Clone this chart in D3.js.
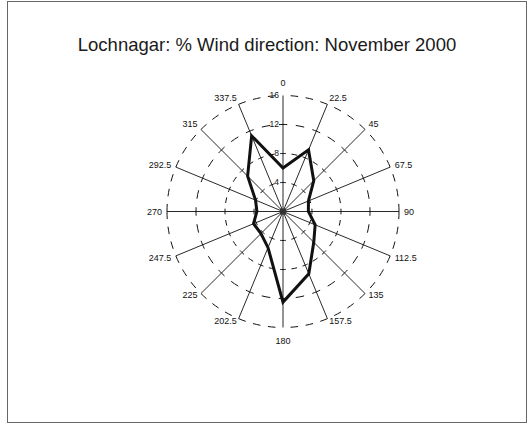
<!DOCTYPE html>
<html>
<head>
<meta charset="utf-8">
<script src="https://cdn.jsdelivr.net/npm/d3@7"></script>
<style>
  html, body { margin: 0; padding: 0; background: #fff; }
  svg { display: block; }
</style>
</head>
<body>
<svg id="chart" width="529" height="427"></svg>
<script>
// Wind direction sectors (degrees, clockwise from north)
const directions = [0, 22.5, 45, 67.5, 90, 112.5, 135, 157.5, 180, 202.5, 225, 247.5, 270, 292.5, 315, 337.5];
const directionLabels = ["0", "22.5", "45", "67.5", "90", "112.5", "135", "157.5", "180", "202.5", "225", "247.5", "270", "292.5", "315", "337.5"];
// Percentage of the month the wind blew from each sector
const windPct = [6.0, 9.2, 6.0, 3.8, 3.5, 4.8, 6.0, 9.3, 12.5, 5.4, 4.3, 4.4, 3.6, 4.1, 6.9, 11.3];
// Radial rings
const ringTicks = [4, 8, 12, 16];

const svg = d3.select("#chart");
const cx = 283, cy = 211.5;
const font = "'Liberation Sans', Arial, Helvetica, sans-serif";

// Outer frame
svg.append("rect")
  .attr("x", 7.5).attr("y", 1.5)
  .attr("width", 519).attr("height", 421)
  .attr("fill", "none").attr("stroke", "#666").attr("stroke-width", 1);

// Title
svg.append("text")
  .attr("x", 267).attr("y", 51)
  .attr("text-anchor", "middle")
  .attr("font-family", font)
  .attr("font-size", 18.5)
  .attr("fill", "#1a1a1a")
  .text("Lochnagar: % Wind direction: November 2000");

const r = d3.scaleLinear().domain([0, 16]).range([0, 116]);
const rad = d => d * Math.PI / 180;

const g = svg.append("g").attr("transform", `translate(${cx},${cy})`);

// Spokes
g.append("g").selectAll("line")
  .data(directions)
  .join("line")
  .attr("x1", 0).attr("y1", 0)
  .attr("x2", d => r(16) * Math.sin(rad(d)))
  .attr("y2", d => -r(16) * Math.cos(rad(d)))
  .attr("stroke", "#111").attr("stroke-width", 0.9);

// Dashed rings, drawn sector by sector so dashes line up on each spoke
const ringG = g.append("g");
ringTicks.forEach(t => {
  const rr = r(t);
  const L = rr * Math.PI / 8;
  const n = Math.max(1, Math.round(L / 15));
  const period = L / n;
  const dash = period * 0.5;
  const outer = t === 16;
  directions.forEach(d => {
    // for the outer ring, start each sector at the end farther from the N-S axis
    let a0 = d, a1 = d + 22.5;
    if (outer) {
      const far = (a) => Math.abs(Math.sin(rad(a)));
      if (far(a0) < far(a1)) { const tmp = a0; a0 = a1; a1 = tmp; }
    }
    const p = d3.path();
    const s0 = rad(a0) - Math.PI / 2, s1 = rad(a1) - Math.PI / 2;
    p.moveTo(rr * Math.cos(s0), rr * Math.sin(s0));
    p.arc(0, 0, rr, s0, s1, a1 < a0);
    ringG.append("path")
      .attr("d", p.toString())
      .attr("fill", "none")
      .attr("stroke", "#111")
      .attr("stroke-width", 1)
      .attr("stroke-dasharray", `${dash} ${period - dash}`)
      .attr("stroke-dashoffset", outer ? 0 : dash / 2);
  });
});

// Ring value labels along the north spoke
g.append("g").selectAll("text")
  .data(ringTicks)
  .join("text")
  .attr("x", -4)
  .attr("y", d => -r(d))
  .attr("dy", "0.35em")
  .attr("text-anchor", "end")
  .attr("font-family", font)
  .attr("font-size", 8.5)
  .attr("fill", "#111")
  .text(d => d);

// Direction labels
g.append("g").selectAll("text")
  .data(directions)
  .join("text")
  .attr("x", d => {
    const s = Math.sin(rad(d));
    const rr = Math.abs(s) < 0.01 ? 129 : 121;
    return rr * s;
  })
  .attr("y", d => {
    const c = Math.cos(rad(d));
    const s = Math.sin(rad(d));
    const rr = Math.abs(s) < 0.01 ? 129 : 121;
    return -rr * c - (Math.abs(c) > 0.5 && Math.abs(s) > 0.01 ? 2 : 0);
  })
  .attr("dy", "0.35em")
  .attr("text-anchor", d => {
    const s = Math.sin(rad(d));
    return s > 0.01 ? "start" : (s < -0.01 ? "end" : "middle");
  })
  .attr("font-family", font)
  .attr("font-size", 9)
  .attr("fill", "#111")
  .text((d, i) => directionLabels[i]);

// Wind rose polygon
const line = d3.lineRadial()
  .angle((d, i) => rad(directions[i]))
  .radius(d => r(d))
  .curve(d3.curveLinearClosed);

g.append("path")
  .datum(windPct)
  .attr("d", line)
  .attr("fill", "none")
  .attr("stroke", "#111")
  .attr("stroke-width", 3)
  .attr("stroke-linejoin", "miter");

// Centre marker
g.append("rect")
  .attr("x", -3).attr("y", -3)
  .attr("width", 6).attr("height", 6)
  .attr("fill", "#333");
</script>
</body>
</html>
